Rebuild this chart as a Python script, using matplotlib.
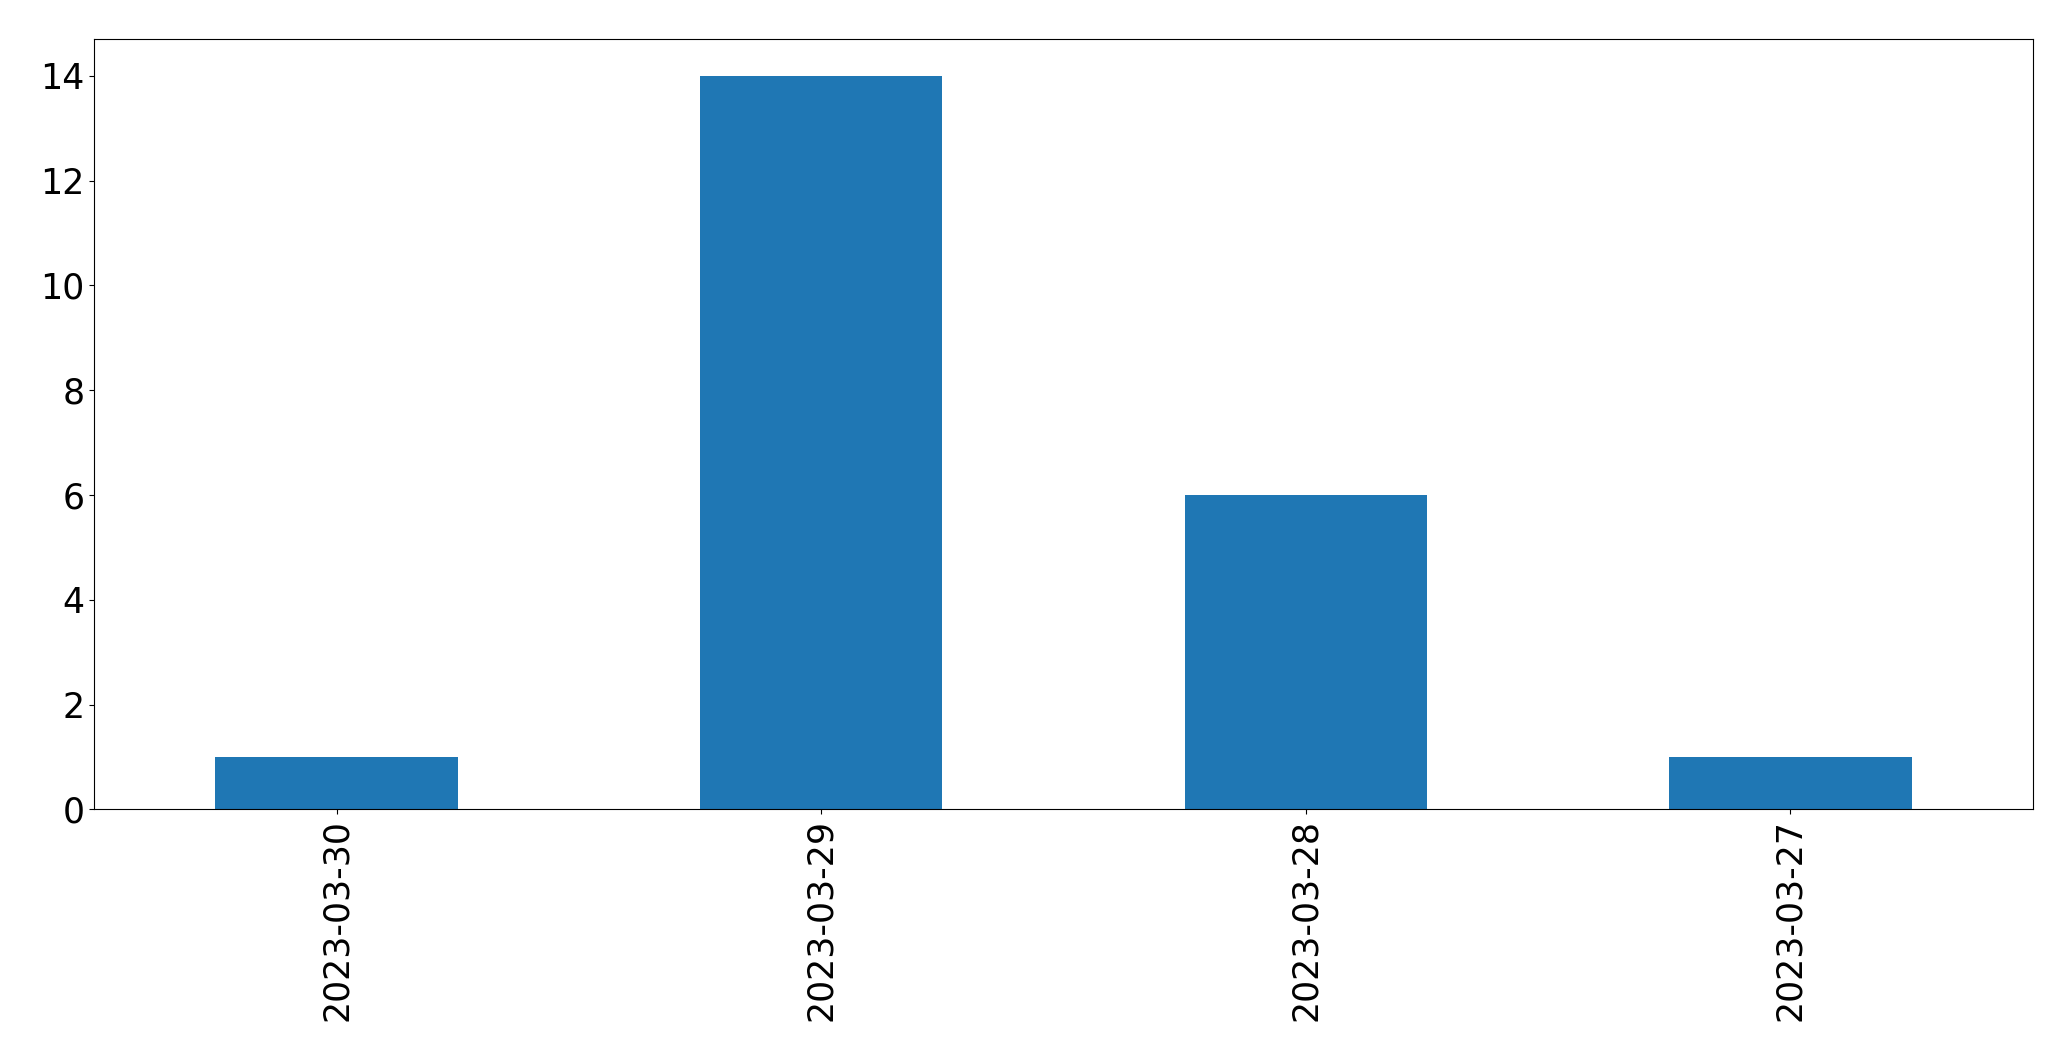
import matplotlib
matplotlib.use("Agg")
import matplotlib.pyplot as plt

dates = ["2023-03-30", "2023-03-29", "2023-03-28", "2023-03-27"]
counts = [1, 14, 6, 1]

W, H = 2071, 1061
fig = plt.figure(figsize=(W / 100, H / 100), dpi=100)
left, right, top, bottom = 94.3, 2032.7, 39.3, 809.3
ax = fig.add_axes([left / W, 1 - bottom / H, (right - left) / W, (bottom - top) / H])

x = range(len(dates))
ax.bar(x, counts, width=0.5, color="#1f77b4")
ax.set_xlim(-0.5, len(dates) - 0.5)
ax.set_ylim(0, 14.7)
ax.set_yticks([0, 2, 4, 6, 8, 10, 12, 14])
ax.set_xticks(list(x))
ax.set_xticklabels(dates, rotation=90)
ax.tick_params(axis="both", labelsize=25)

fig.savefig("out.png", dpi=100)
